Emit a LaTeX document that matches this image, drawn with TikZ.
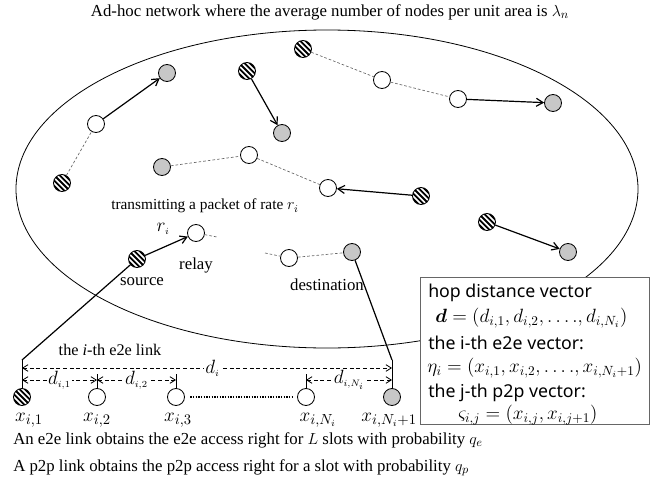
\documentclass[tikz,border=0pt]{standalone}
\usepackage{fontspec}
\usepackage{amsmath}
\setmainfont{Liberation Serif}
\newfontfamily\boxfont{Noto Sans}
\usetikzlibrary{arrows.meta}
\begin{document}
\begin{tikzpicture}[x=0.75pt,y=-0.75pt,
  every node/.style={font=\fontsize{12.6}{14}\selectfont},
  pt/.style={circle, draw, line width=0.6pt, minimum size=12.75pt, inner sep=0pt},
  wnode/.style={pt, fill=white},
  gnode/.style={pt, fill=black!22},
  hnode/.style={pt, fill=white, path picture={
      \foreach \k in {-4,...,4}{
        \draw[line width=1.4pt] ([shift={(\k*4pt-9pt,9pt)}]path picture bounding box.center) -- ++(18pt,-18pt);}}},
  arr/.style={line width=0.9pt, -{Straight Barb[length=5pt,width=6pt]}},
  dsh/.style={draw=black!60, line width=0.5pt, dash pattern=on 2pt off 1.5pt},
  dim/.style={line width=0.6pt, dash pattern=on 3pt off 2pt,
      {Straight Barb[length=4pt,width=5pt]}-{Straight Barb[length=4pt,width=5pt]}},
  lbl/.style={fill=white, inner sep=1pt, font=\fontsize{15}{17}\selectfont},
  xl/.style={font=\fontsize{15}{17}\selectfont},
  boxst/.style={draw=black!60, line width=0.8pt, fill=white},
  boxtxt/.style={anchor=west, inner sep=0pt, font=\boxfont\fontsize{13.3}{15}\selectfont},
  boxmath/.style={anchor=west, inner sep=0pt, font=\fontsize{14.5}{16}\selectfont}
]
\useasboundingbox (0,0) rectangle (662,500);

% title
\node (title) at (330,12) {Ad-hoc network where the average number of nodes per unit area is $\lambda_n$};

% network area
\draw[line width=0.6pt] (327,189) ellipse [x radius=311, y radius=159];

% upper-left pair
\node[hnode] (a0) at (62,183) {};
\node[wnode] (a1) at (96,124) {};
\node[gnode] (a2) at (167,73) {};
\draw[dsh] (a0) -- (a1);
\draw[arr] (a1) -- (a2);

% single hop
\node[hnode] (b1) at (247,71) {};
\node[gnode] (b2) at (282,133) {};
\draw[arr] (b1) -- (b2);

% upper chain
\node[hnode] (c1) at (303,49) {};
\node[wnode] (c2) at (382,80) {};
\node[wnode] (c3) at (458,99) {};
\node[gnode] (c4) at (553,103) {};
\draw[dsh] (c1) -- (c2) -- (c3);
\draw[arr] (c3) -- (c4);

% middle chain
\node[gnode] (e1) at (162,167) {};
\node[wnode] (e2) at (249,155) {};
\node[wnode] (e3) at (328,188) {};
\node[hnode] (e4) at (421,196) {};
\draw[dsh] (e1) -- (e2) -- (e3);
\draw[arr] (e4) -- (e3);

% right pair
\node[hnode] (f1) at (487,222) {};
\node[gnode] (f2) at (568,252) {};
\draw[arr] (f1) -- (f2);

% the i-th e2e link
\node[hnode] (src) at (137,259) {};
\node[wnode] (rel) at (196,233) {};
\coordinate (relstub) at (217,237);
\coordinate (dststub) at (265,253);
\node[wnode] (g1) at (289,258) {};
\node[gnode] (dst) at (352,252) {};
\draw[arr] (src) -- (rel);
\draw[dsh] (rel) -- (relstub);
\draw[dsh] (dststub) -- (g1) -- (dst);

\node[inner sep=0pt, font=\fontsize{11.5}{13}\selectfont] (tx) at (205,206) {transmitting a packet of rate $r_i$};
\node[xl, inner sep=0pt] (ri) at (163,229) {$r_{\scriptscriptstyle i}$};
\node (relay) at (196,265) {relay};
\node (source) at (142,282) {source};
\node (destination) at (327,285) {destination};

% linear view of the e2e link
\node[hnode] (x1) at (22,397) {};
\node[wnode] (x2) at (97,397) {};
\node[wnode] (x3) at (176,397) {};
\node[wnode] (xN) at (306,397) {};
\node[gnode] (xN1) at (392,397) {};

\coordinate (el) at (22,360);
\coordinate (er) at (392,360);
\draw[line width=0.9pt] (src) -- (el);
\draw[line width=0.9pt] (dst) -- (er);
\draw[line width=0.6pt] (el) -- (x1);
\draw[line width=0.6pt] (er) -- (xN1);
\coordinate (t2) at (97,374);
\coordinate (t3) at (176,374);
\coordinate (tN) at (306,374);
\draw[line width=0.6pt] (x2) -- (t2);
\draw[line width=0.6pt] (x3) -- (t3);
\draw[line width=0.6pt] (xN) -- (tN);
\draw[line width=1.6pt, dash pattern=on 1pt off 1pt, shorten <=4pt, shorten >=4pt] (x3) -- (xN);

\node[font=\fontsize{12.2}{14}\selectfont] (e2elink) at (110,350) {the \textit{i}-th e2e link};

\coordinate (di0) at (22,368);
\coordinate (di1) at (392,368);
\draw[dim] (di0) -- (di1) node[lbl, pos=0.515] (dil) {$d_{\scriptscriptstyle i}$};
\coordinate (d10) at (22,380);
\coordinate (d11) at (97,380);
\coordinate (d21) at (176,380);
\coordinate (dN0) at (306,380);
\coordinate (dN1) at (392,380);
\draw[dim] (d10) -- (d11) node[lbl, midway] (d1l) {$d_{\scriptscriptstyle i,1}$};
\draw[dim] (d11) -- (d21) node[lbl, midway] (d2l) {$d_{\scriptscriptstyle i,2}$};
\draw[dim] (dN0) -- (dN1) node[lbl, midway] (dNl) {$d_{\scriptscriptstyle i,N_i}$};

\node[xl] (lx1) at (29,420) {$x_{i,1}$};
\node[xl] (lx2) at (97,420) {$x_{i,2}$};
\node[xl] (lx3) at (178,420) {$x_{i,3}$};
\node[xl] (lxN) at (318,420) {$x_{i,N_i}$};
\node[xl, anchor=east, inner sep=0pt] (lxN1) at (417,420) {$x_{i,N_i+1}$};

% vectors box
\node[boxst, minimum width=171.75pt, minimum height=110.25pt, anchor=north west] (box) at (420,277) {};
\node[boxtxt] (l1) at (428,293) {hop distance vector};
\node[boxmath] (l2) at (435,318) {$\boldsymbol{d} = \left(d_{i,1}, d_{i,2}, \dots., d_{i,N_i}\right)$};
\node[boxtxt] (l3) at (428,343) {the i-th e2e vector:};
\node[boxmath] (l4) at (427,368) {$\eta_i = \left(x_{i,1}, x_{i,2}, \dots., x_{i,N_i+1}\right)$};
\node[boxtxt] (l5) at (428,393) {the j-th p2p vector:};
\node[boxmath] (l6) at (458,415) {$\varsigma_{i,j} = \left(x_{i,j}, x_{i,j+1}\right)$};

% access rules
\node[anchor=west, inner sep=0pt] (rule1) at (13,440) {An e2e link obtains the e2e access right for $L$ slots with probability $q_e$};
\node[anchor=west, inner sep=0pt] (rule2) at (13,468) {A p2p link obtains the p2p access right for a slot with probability $q_p$};
\end{tikzpicture}
\end{document}
